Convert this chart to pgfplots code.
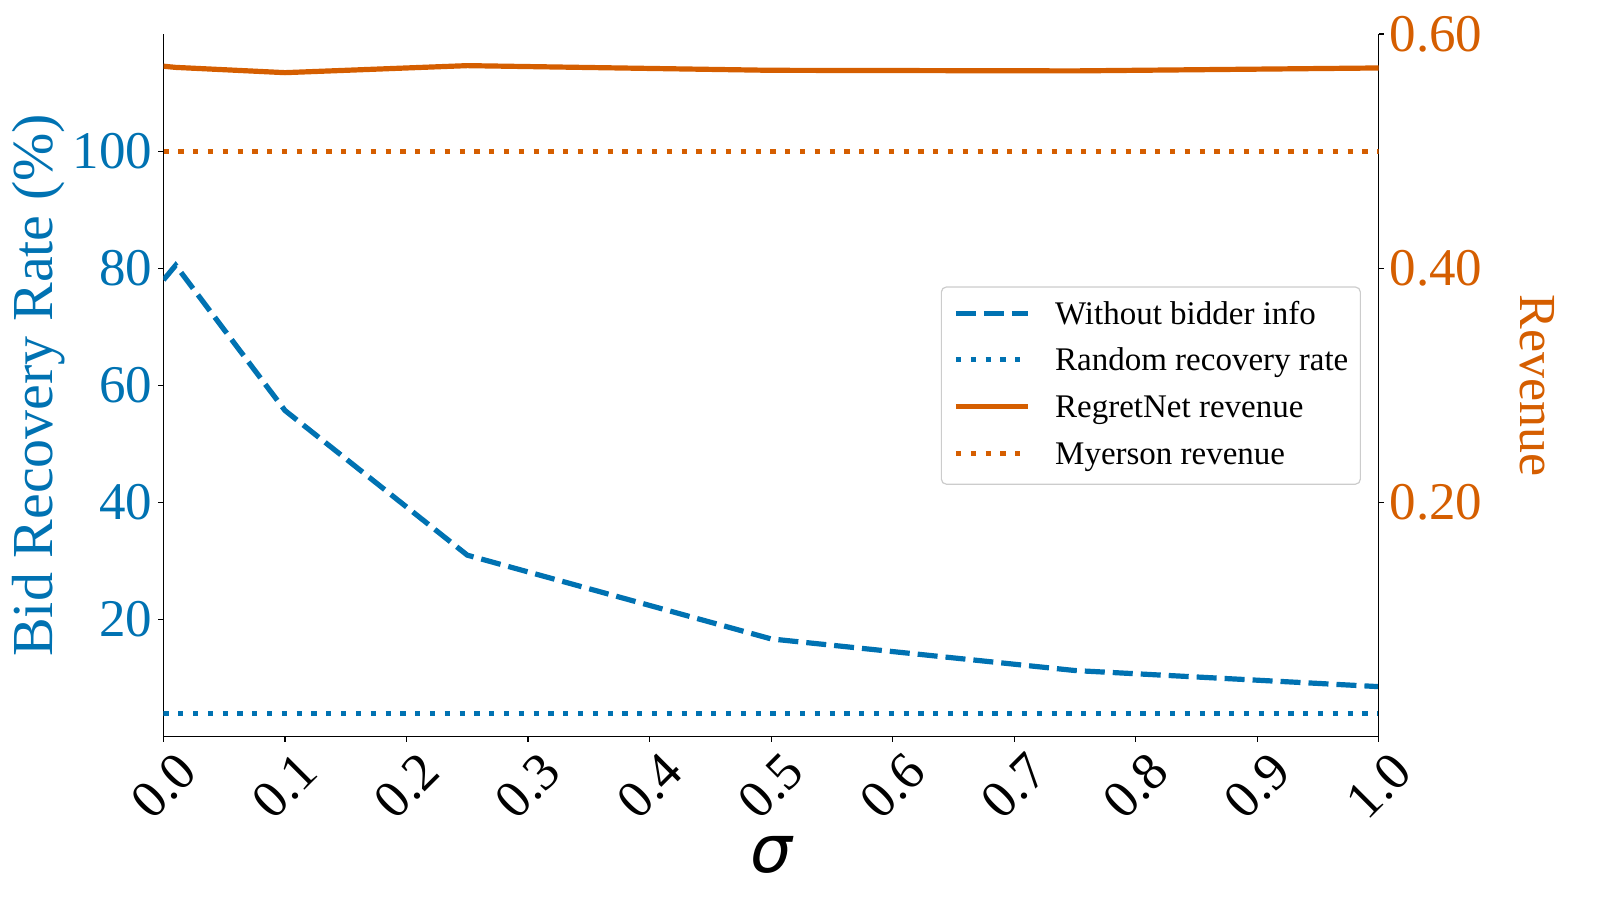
\documentclass[border=0pt]{standalone}
\usepackage{fontspec}
\setmainfont{Liberation Serif}
\newfontfamily\dejavu{DejaVu Sans}
\usepackage{pgfplots}
\pgfplotsset{compat=1.18}
\definecolor{myblue}{RGB}{0,114,178}
\definecolor{myorange}{RGB}{213,94,0}
\tikzset{
  dashedline/.style={line width=2.6pt, dash pattern=on 10pt off 4pt},
  dottedline/.style={line width=2.6pt, dash pattern=on 2.6pt off 4.8pt},
}
\pgfplotsset{
  common/.style={
    scale only axis, width=607.6pt, height=351.35pt,
    at={(0,0)}, anchor=south west,
    xmin=0, xmax=1,
    tick align=outside, major tick length=2.5pt,
    axis line style={line width=0.6pt, -},
    tick style={line width=0.6pt, black},
  },
}
\begin{document}
\begin{tikzpicture}
\begin{axis}[common,
  ymin=0, ymax=120,
  axis x line*=bottom, axis y line*=left,
  xtick={0,0.1,0.2,0.3,0.4,0.5,0.6,0.7,0.8,0.9,1},
  xticklabels={0.0,0.1,0.2,0.3,0.4,0.5,0.6,0.7,0.8,0.9,1.0},
  ytick={20,40,60,80,100}, yticklabels={20,40,60,80,100},
  xticklabel style={font=\fontsize{26.5}{30}\selectfont, anchor=center, yshift=-22pt, rotate=45},
  yticklabel style={font=\fontsize{26.5}{30}\selectfont, text=myblue, inner sep=2.8pt},
  xlabel={\dejavu\itshape σ},
  ylabel={Bid Recovery Rate (\%)},
  every axis x label/.style={at={(axis description cs:0.5,-0.1679)}, anchor=center, font=\fontsize{33}{36}\selectfont},
  every axis y label/.style={at={(axis description cs:-0.1025,0.5)}, anchor=center, rotate=90, font=\fontsize{29}{32}\selectfont, text=myblue},
]
\addplot[myblue, dashedline] coordinates {
  (0,78.0) (0.01,80.5) (0.1,55.7) (0.25,31.0) (0.5,16.7) (0.75,11.3) (1.0,8.55)
};
\addplot[myblue, dottedline] coordinates {
  (0,4.0) (0.1,4.0) (0.25,4.0) (0.5,4.0) (0.75,4.0) (1.0,4.0)
};
\end{axis}
\begin{axis}[common,
  ymin=0, ymax=0.6,
  axis x line=none, axis y line*=right,
  ytick={0.2,0.4,0.6}, yticklabels={0.20,0.40,0.60},
  yticklabel style={font=\fontsize{26.5}{30}\selectfont, text=myorange, inner sep=2.8pt},
  ylabel={Revenue},
  every axis y label/.style={at={(axis description cs:1.1303,0.5)}, anchor=center, rotate=-90, font=\fontsize{26}{29}\selectfont, text=myorange},
  legend cell align=left,
  legend image code/.code={\draw[#1] (0pt,1.2pt) -- (35.8pt,1.2pt);},
  legend style={
    font=\fontsize{16.5}{19}\selectfont,
    draw=black!20, line width=0.6pt, rounded corners=2.5pt, fill=white,
    inner xsep=6pt, inner ysep=6.3pt,
    row sep=7.33pt,
    nodes={inner sep=0pt, text height=12.3pt, text depth=3.7pt},
    /tikz/every odd column/.append style={column sep=12.5pt},
    at={(rel axis cs:0.9854,0.6408)}, anchor=north east,
  },
]
\addlegendimage{myblue, dashedline}
\addlegendentry{Without bidder info}
\addlegendimage{myblue, dottedline}
\addlegendentry{Random recovery rate}
\addplot[myorange, line width=2.6pt] coordinates {
  (0,0.5725) (0.01,0.5715) (0.1,0.5670) (0.25,0.5730) (0.5,0.5690) (0.75,0.5685) (1.0,0.5710)
};
\addlegendentry{RegretNet revenue}
\addplot[myorange, dottedline] coordinates {
  (0,0.5) (0.1,0.5) (0.25,0.5) (0.5,0.5) (0.75,0.5) (1.0,0.5)
};
\addlegendentry{Myerson revenue}
\end{axis}
\pgfresetboundingbox
\path[use as bounding box] (-81.75pt,-81.65pt) rectangle (718.25pt,368.35pt);
\end{tikzpicture}
\end{document}
